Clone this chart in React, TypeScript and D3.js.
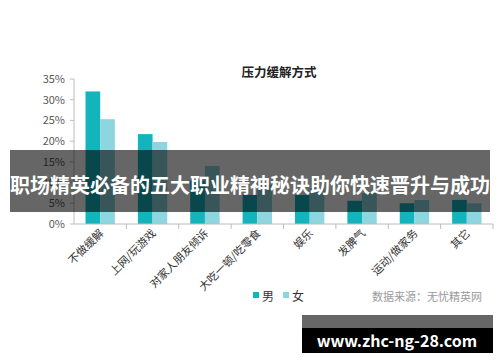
import React from "react";
import * as d3 from "d3";

const width = 500;
const height = 362;
const margin = { top: 79, right: 7, bottom: 138, left: 74 };

const categories = ["不做缓解", "上网/玩游戏", "对家人朋友倾诉", "大吃一顿/吃零食", "娱乐", "发脾气", "运动/做家务", "其它"];
const series = ["男", "女"];
const male = [0.32, 0.217, 0.105, 0.07, 0.07, 0.056, 0.05, 0.058];
const female = [0.253, 0.198, 0.14, 0.095, 0.087, 0.075, 0.058, 0.05];
const yTicks = [0, 0.05, 0.1, 0.15, 0.2, 0.25, 0.3, 0.35];
const colors = ["#14b4bd", "#8dd6df"];

const font = "'Noto Sans CJK SC', 'Noto Sans', sans-serif";

export default function App() {
  const x0 = d3.scaleBand<string>()
    .domain(categories)
    .range([margin.left, width - margin.right]);
  const step = x0.bandwidth();
  const x1 = d3.scaleBand<string>()
    .domain(series)
    .range([11.5, step - 11.5]);
  const y = d3.scaleLinear()
    .domain([0, 0.35])
    .range([height - margin.bottom, margin.top]);

  const values = [male, female];
  const y0 = y(0);

  return (
    <svg width={width} height={height} style={{ position: "absolute", left: 0, top: 0, background: "#fff" }}>
      <text x={279} y={77} textAnchor="middle" fontFamily={font} fontWeight="bold" fontSize={12.5} fill="#222">压力缓解方式</text>

      {/* y axis */}
      <line x1={margin.left} x2={margin.left} y1={y(0.35)} y2={y0} stroke="#bcbcbc" />
      {yTicks.map((t) => (
        <g key={t}>
          <line x1={margin.left - 4} x2={margin.left} y1={y(t)} y2={y(t)} stroke="#bcbcbc" />
          <text x={65} y={y(t)} dy="0.35em" textAnchor="end" fontFamily={font} fontSize={11} fill="#595959">
            {d3.format(".0%")(t)}
          </text>
        </g>
      ))}

      {/* bars */}
      {categories.map((c, i) => (
        <g key={c} transform={`translate(${x0(c)},0)`}>
          {series.map((s, j) => (
            <rect key={s} x={x1(s)} y={y(values[j][i])} width={x1.bandwidth()} height={y0 - y(values[j][i])} fill={colors[j]} />
          ))}
        </g>
      ))}

      {/* x axis */}
      <line x1={margin.left} x2={width - margin.right} y1={y0} y2={y0} stroke="#bcbcbc" />
      {categories.map((c) => (
        <line key={c} x1={(x0(c) as number) + step} x2={(x0(c) as number) + step} y1={y0} y2={y0 + 5} stroke="#bcbcbc" />
      ))}
      {categories.map((c) => {
        const cx = (x0(c) as number) + step / 2 + 4;
        return (
          <text key={c} transform={`translate(${cx},${y0 + 10}) rotate(-45)`} textAnchor="end" fontFamily={font} fontSize={11} fill="#333">
            {c}
          </text>
        );
      })}

      {/* legend */}
      {series.map((s, j) => (
        <g key={s} transform={`translate(${253 + j * 30},297)`}>
          <rect x={0} y={-5} width={6} height={6} fill={colors[j]} />
          <text x={9} y={0} dy="0.35em" fontFamily={font} fontSize={12} fill="#333">{s}</text>
        </g>
      ))}
      <text x={372} y={297} dy="0.35em" fontFamily={font} fontSize={11} fill="#9a9a9a">数据来源：无忧精英网</text>

      {/* overlay banner */}
      <rect x={10} y={150} width={480} height={62} fill="#000" fillOpacity={0.6} />
      <text x={250} y={186} textAnchor="middle" dy="0.35em" fontFamily={font} fontWeight="bold" fontSize={20} fill="#fff">
        职场精英必备的五大职业精神秘诀助你快速晋升与成功
      </text>

      {/* watermark */}
      <rect x={302} y={315} width={191} height={13} fill="#000" fillOpacity={0.6} />
      <rect x={302} y={328} width={191} height={25} fill="#000" />
      <text x={397} y={341} textAnchor="middle" dy="0.35em" fontFamily={font} fontWeight="bold" fontSize={16} fill="#fff">
        www.zhc-ng-28.com
      </text>
    </svg>
  );
}
